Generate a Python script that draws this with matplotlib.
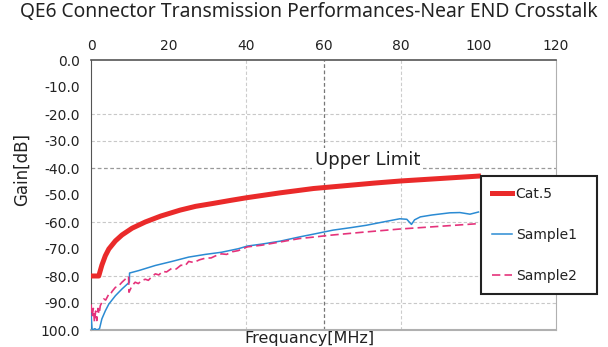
import matplotlib
matplotlib.use("Agg")
import matplotlib.pyplot as plt

# frequency [MHz] / gain [dB] readings
cat5_f = [0, 2.0, 2.8, 3.7, 4.6, 6.3, 8.0, 10.6, 14, 18, 23, 27, 31.6, 36, 40.2,
          48.8, 57.4, 66, 73, 80, 90, 100]
cat5_db = [-80, -80, -76, -72.5, -70, -67, -64.8, -62.3, -60, -57.8, -55.6, -54.2,
           -53.1, -52.0, -51.0, -49.2, -47.6, -46.5, -45.6, -44.8, -43.9, -43.0]

s1_f = [0, 0.3, 1.0, 1.5, 2.2, 2.8, 3.7, 4.6, 6.3, 8.0, 9.9, 9.95, 12.3, 16.6,
        20.9, 25.2, 29.5, 33.7, 38, 40.4, 44, 48.8, 53.9, 57.4, 62.5, 67, 71.1,
        75, 79.7, 81.5, 82.7, 83.5, 85, 88, 92.6, 95.2, 97.8, 100]
s1_db = [-94, -100, -99.5, -100, -99.5, -95.9, -92.9, -90.4, -87.3, -84.8, -82.3,
         -78.9, -78.0, -76.1, -74.6, -73.0, -72.0, -71.2, -69.9, -68.9, -68.2,
         -67.1, -65.5, -64.5, -63.0, -62.1, -61.2, -60.1, -58.8, -59.0, -60.9,
         -59.2, -58.1, -57.4, -56.6, -56.5, -57.1, -56.3]

s2_f = [0, 0.3, 0.6, 0.9, 1.2, 1.5, 1.8, 2.1, 2.4, 2.9, 3.3, 3.8, 4.6, 5.0, 5.4,
        6.3, 7.0, 8.0, 8.9, 9.7, 9.8, 10.6, 11.4, 12.2, 13.1, 14.0, 14.8, 15.6,
        16.6, 17.5, 18.5, 19.5, 20.9, 22.0, 23.2, 24.3, 25.2, 26.5, 28.0, 29.5,
        31.0, 32.5, 33.7, 35.0, 36.5, 38, 40.4, 44, 48.8, 53.9, 57.4, 61.7, 70,
        79.7, 90, 100]
s2_db = [-90.5, -95, -92, -97, -93, -96.5, -92, -94, -91, -89.5, -88.5, -88.9,
         -86.7, -86.9, -85.8, -84.2, -83.9, -82.3, -81.1, -80.1, -86.0, -83.6,
         -82.3, -82.8, -81.7, -81.2, -81.6, -80.4, -79.2, -79.6, -78.3, -78.5,
         -77.1, -77.4, -76.0, -76.2, -74.6, -75.0, -74.0, -73.4, -73.3, -72.3,
         -71.8, -72.0, -71.0, -70.6, -69.2, -68.6, -67.4, -66.1, -65.6, -64.9,
         -63.8, -62.6, -61.6, -60.6]

upper_limit = -40
x_ticks = [0, 20, 40, 60, 80, 100, 120]
y_ticks = [0, -10, -20, -30, -40, -50, -60, -70, -80, -90, -100]
y_labels = ["0.0", "-10.0", "-20.0", "-30.0", "-40.0", "-50.0", "-60.0",
            "-70.0", "-80.0", "-90.0", "100.0"]

RED = "#ea2a2a"
BLUE = "#2b8bd3"
PINK = "#e5337b"

fig = plt.figure(figsize=(6.08, 3.47), dpi=100)
ax = fig.add_axes([91 / 608, 17 / 347, 465 / 608, 270 / 347])

# light dashed grid, darker at 60 MHz
for g in [-20, -30, -60, -80, -90]:
    ax.axhline(g, color="#c8c8c8", lw=0.8, ls=(0, (3, 2)), zorder=0)
for g in [40, 80]:
    ax.axvline(g, color="#cccccc", lw=0.8, ls=(0, (3, 2)), zorder=0)
ax.axvline(60, color="#777777", lw=0.9, ls=(0, (3, 2)), zorder=0)
ax.axhline(upper_limit, color="#999999", lw=0.9, ls=(0, (3, 2)), zorder=0)
ax.text(71.4, upper_limit + 1.2, "Upper Limit", fontsize=13, color="#222222",
        ha="center", va="baseline", zorder=1,
        bbox=dict(facecolor="white", edgecolor="none", pad=2))

ax.plot(cat5_f, cat5_db, color=RED, lw=3.6, label="Cat.5", zorder=3)
ax.plot(s1_f, s1_db, color=BLUE, lw=1.1, label="Sample1", zorder=4)
ax.plot(s2_f, s2_db, color=PINK, lw=1.2, dashes=(5, 2.5), label="Sample2", zorder=4)

ax.set_xlim(0, 120)
ax.set_ylim(-100, 0)
ax.xaxis.tick_top()
ax.set_xticks(x_ticks)
ax.set_xticklabels([str(t) for t in x_ticks])
ax.set_yticks(y_ticks)
ax.set_yticklabels(y_labels)
ax.tick_params(axis="both", length=0, labelsize=10, labelcolor="#222222")
ax.tick_params(axis="x", pad=5)
ax.tick_params(axis="y", pad=8)

ax.spines["left"].set_color("#555555")
ax.spines["top"].set_color("#555555")
ax.spines["top"].set_linewidth(1.2)
ax.spines["right"].set_color("#b0b0b0")
ax.spines["bottom"].set_color("#b0b0b0")
ax.spines["bottom"].set_linewidth(1.5)

leg = ax.legend(loc="upper left", bbox_to_anchor=(0.8387, 0.1333, 0.2495, 0.4371),
                mode="expand", borderaxespad=0, fontsize=10, frameon=True,
                fancybox=False, framealpha=1, edgecolor="#222222",
                labelspacing=1.95, handlelength=1.4, handletextpad=0.3,
                borderpad=0.8)
leg.get_frame().set_linewidth(1.5)
leg.set_zorder(10)
for t in leg.get_texts():
    t.set_color("#222222")

fig.text(20 / 608, 1 - 12 / 347, "QE6 Connector Transmission Performances-Near END Crosstalk",
         fontsize=13.9, family="Noto Sans", color="#222222", ha="left", va="center")
fig.text(22 / 608, 1 - 169 / 347, "Gain[dB]", fontsize=12, rotation=90,
         color="#222222", ha="center", va="center")
fig.text(309 / 608, 0.002, "Frequancy[MHz]", fontsize=11.5,
         color="#222222", ha="center", va="bottom")

fig.savefig("out.png", dpi=100)
